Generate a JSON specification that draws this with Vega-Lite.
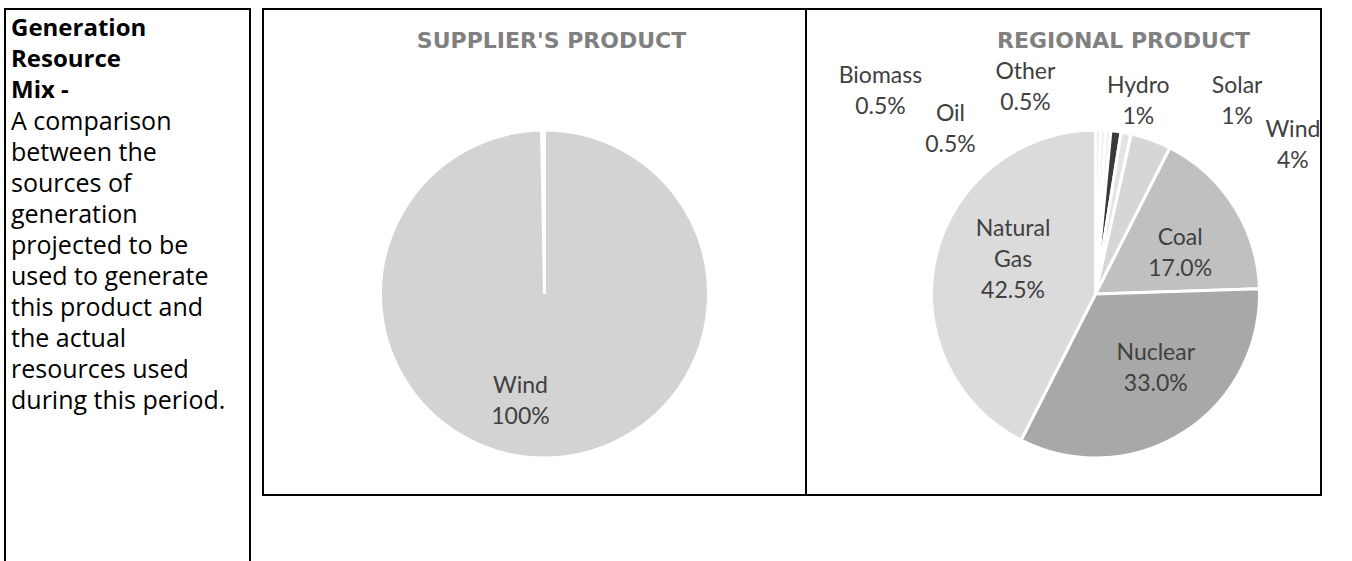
{
  "$schema": "https://vega.github.io/schema/vega-lite/v6.json",
  "padding": {"left": 4, "top": 8, "right": 0, "bottom": 0},
  "background": "white",
  "config": {
    "font": "Lato"
  },
  "datasets": {
    "supplier": [
      {"source": "Wind", "share": 100, "rank": 1, "label": ["Wind", "100%"]}
    ],
    "regional": [
      {"source": "Oil", "share": 0.5, "rank": 1, "label": ["Oil", "0.5%"]},
      {"source": "Biomass", "share": 0.5, "rank": 2, "label": ["Biomass", "0.5%"]},
      {"source": "Other", "share": 0.5, "rank": 3, "label": ["Other", "0.5%"]},
      {"source": "Hydro", "share": 1, "rank": 4, "label": ["Hydro", "1%"]},
      {"source": "Solar", "share": 1, "rank": 5, "label": ["Solar", "1%"]},
      {"source": "Wind", "share": 4, "rank": 6, "label": ["Wind", "4%"]},
      {"source": "Coal", "share": 17, "rank": 7, "label": ["Coal", "17.0%"]},
      {"source": "Nuclear", "share": 33, "rank": 8, "label": ["Nuclear", "33.0%"]},
      {"source": "Natural Gas", "share": 42.5, "rank": 9, "label": ["Natural", "Gas", "42.5%"]}
    ]
  },
  "spacing": 13,
  "bounds": "flush",
  "hconcat": [
    {
      "width": 245,
      "height": 560,
      "view": {"stroke": "#000000", "strokeWidth": 2, "fill": "#ffffff"},
      "data": {"values": [{"blank": ""}]},
      "title": {
        "text": ["Generation", "Resource", "Mix -"],
        "subtitle": ["A comparison", "between the", "sources of", "generation", "projected to be", "used to generate", "this product and", "the actual", "resources used", "during this period."],
        "anchor": "start",
        "frame": "group",
        "offset": -405,
        "dx": 6,
        "font": "Open Sans",
        "fontSize": 24,
        "fontWeight": "bold",
        "color": "#000000",
        "lineHeight": 31,
        "subtitleFont": "Open Sans",
        "subtitleFontSize": 25,
        "subtitleColor": "#000000",
        "subtitleLineHeight": 31,
        "subtitlePadding": 7
      },
      "mark": {"type": "text"},
      "encoding": {"text": {"field": "blank", "type": "nominal"}}
    },
    {
      "spacing": 0,
      "bounds": "flush",
      "resolve": {"scale": {"color": "independent", "theta": "independent"}},
      "hconcat": [
        {
          "width": 543,
          "height": 486,
          "view": {"stroke": "#000000", "strokeWidth": 2, "fill": "#ffffff"},
          "data": {"name": "supplier"},
          "title": {
            "text": "SUPPLIER'S PRODUCT",
            "anchor": "middle",
            "frame": "group",
            "offset": -44,
            "dx": 17,
            "font": "DejaVu Sans",
            "fontSize": 22,
            "fontWeight": "bold",
            "color": "#808080"
          },
          "encoding": {
            "theta": {"field": "share", "type": "quantitative", "stack": true, "scale": {"range": [0, 6.265]}},
            "order": {"field": "rank", "type": "ordinal"}
          },
          "layer": [
            {
              "mark": {"type": "arc", "radius": 164, "stroke": "#ffffff", "strokeWidth": 3, "xOffset": 10, "yOffset": 42},
              "encoding": {
                "color": {"field": "source", "type": "nominal", "legend": null,
                  "scale": {"domain": ["Wind"], "range": ["#d3d3d3"]}}
              }
            },
            {
              "mark": {"type": "text", "radius": 107, "xOffset": 10, "yOffset": 42, "dx": -25, "dy": -15, "fontSize": 23, "color": "#404040", "align": "center", "baseline": "middle", "lineHeight": 31},
              "encoding": {"text": {"field": "label", "type": "nominal"}}
            }
          ]
        },
        {
          "width": 515,
          "height": 486,
          "view": {"stroke": "#000000", "strokeWidth": 2, "fill": "#ffffff"},
          "data": {"name": "regional"},
          "title": {
            "text": "REGIONAL PRODUCT",
            "anchor": "middle",
            "frame": "group",
            "offset": -44,
            "dx": 60,
            "font": "DejaVu Sans",
            "fontSize": 22,
            "fontWeight": "bold",
            "color": "#808080"
          },
          "encoding": {
            "theta": {"field": "share", "type": "quantitative", "stack": true},
            "order": {"field": "rank", "type": "ordinal"}
          },
          "layer": [
            {
              "mark": {"type": "arc", "radius": 164, "stroke": "#ffffff", "strokeWidth": 3, "xOffset": 32, "yOffset": 42},
              "encoding": {
                "color": {"field": "source", "type": "nominal", "legend": null,
                  "scale": {
                    "domain": ["Oil", "Biomass", "Other", "Hydro", "Solar", "Wind", "Coal", "Nuclear", "Natural Gas"],
                    "range": ["#eeeeee", "#eeeeee", "#eeeeee", "#3a3a3a", "#e4e4e4", "#d6d6d6", "#c0c0c0", "#a8a8a8", "#dbdbdb"]
                  }}
              }
            },
            {
              "mark": {"type": "text", "radius": 92, "xOffset": 32, "yOffset": 42, "dx": 7, "dy": -44, "fontSize": 23, "color": "#404040", "align": "center", "baseline": "middle", "lineHeight": 31},
              "encoding": {"text": {"condition": {"test": "datum.source !== 'Natural Gas'", "value": ""}, "field": "label", "type": "nominal"}}
            },
            {
              "mark": {"type": "text", "radius": 92, "xOffset": 32, "yOffset": 42, "dx": 7, "dy": -7, "fontSize": 23, "color": "#404040", "align": "center", "baseline": "middle", "lineHeight": 31},
              "encoding": {"text": {"condition": {"test": "datum.source !== 'Coal'", "value": ""}, "field": "label", "type": "nominal"}}
            },
            {
              "mark": {"type": "text", "radius": 92, "xOffset": 32, "yOffset": 42, "dx": 11, "dy": -19, "fontSize": 23, "color": "#404040", "align": "center", "baseline": "middle", "lineHeight": 31},
              "encoding": {"text": {"condition": {"test": "datum.source !== 'Nuclear'", "value": ""}, "field": "label", "type": "nominal"}}
            },
            {
              "mark": {"type": "text", "radius": 190, "xOffset": 32, "yOffset": 42, "dx": -148, "dy": 10, "fontSize": 23, "color": "#404040", "align": "center", "baseline": "middle", "lineHeight": 31},
              "encoding": {"text": {"condition": {"test": "datum.source !== 'Oil'", "value": ""}, "field": "label", "type": "nominal"}}
            },
            {
              "mark": {"type": "text", "radius": 190, "xOffset": 32, "yOffset": 42, "dx": -224, "dy": -28, "fontSize": 23, "color": "#404040", "align": "center", "baseline": "middle", "lineHeight": 31},
              "encoding": {"text": {"condition": {"test": "datum.source !== 'Biomass'", "value": ""}, "field": "label", "type": "nominal"}}
            },
            {
              "mark": {"type": "text", "radius": 190, "xOffset": 32, "yOffset": 42, "dx": -85, "dy": -33, "fontSize": 23, "color": "#404040", "align": "center", "baseline": "middle", "lineHeight": 31},
              "encoding": {"text": {"condition": {"test": "datum.source !== 'Other'", "value": ""}, "field": "label", "type": "nominal"}}
            },
            {
              "mark": {"type": "text", "radius": 190, "xOffset": 32, "yOffset": 42, "dx": 19, "dy": -19, "fontSize": 23, "color": "#404040", "align": "center", "baseline": "middle", "lineHeight": 31},
              "encoding": {"text": {"condition": {"test": "datum.source !== 'Hydro'", "value": ""}, "field": "label", "type": "nominal"}}
            },
            {
              "mark": {"type": "text", "radius": 190, "xOffset": 32, "yOffset": 42, "dx": 106, "dy": -21, "fontSize": 23, "color": "#404040", "align": "center", "baseline": "middle", "lineHeight": 31},
              "encoding": {"text": {"condition": {"test": "datum.source !== 'Solar'", "value": ""}, "field": "label", "type": "nominal"}}
            },
            {
              "mark": {"type": "text", "radius": 190, "xOffset": 32, "yOffset": 42, "dx": 133, "dy": 15, "fontSize": 23, "color": "#404040", "align": "center", "baseline": "middle", "lineHeight": 31},
              "encoding": {"text": {"condition": {"test": "datum.source !== 'Wind'", "value": ""}, "field": "label", "type": "nominal"}}
            }
          ]
        }
      ]
    }
  ]
}
